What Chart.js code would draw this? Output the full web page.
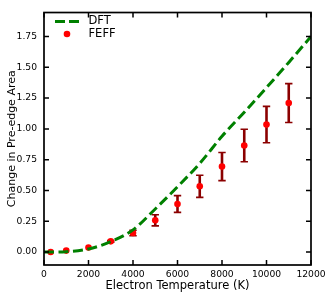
<!DOCTYPE html>
<html>
<head>
<meta charset="utf-8">
<script src="https://cdn.jsdelivr.net/npm/chart.js@4.4.1/dist/chart.umd.min.js"></script>
<style>
html,body{margin:0;padding:0;background:#fff;}
#wrap{width:332px;height:298px;}
</style>
</head>
<body>
<div id="wrap"><canvas id="c" width="332" height="298"></canvas></div>
<script>
// ---- data ----
const dftTemps = [0, 1000, 2000, 3000, 4000, 5000, 6000, 7000, 8000, 9000, 10000, 11000, 12000];
const dftValues = [0, 0.003, 0.025, 0.085, 0.18, 0.35, 0.53, 0.72, 0.94, 1.135, 1.335, 1.54, 1.75];
const feffTemps = [300, 1000, 2000, 3000, 4000, 5000, 6000, 7000, 8000, 9000, 10000, 11000];
const feffValues = [0, 0.012, 0.037, 0.087, 0.155, 0.258, 0.39, 0.534, 0.694, 0.865, 1.035, 1.21];
const feffErrors = [0, 0, 0, 0.006, 0.022, 0.045, 0.068, 0.09, 0.114, 0.132, 0.148, 0.158];
const xTicks = [0, 2000, 4000, 6000, 8000, 10000, 12000];
const yTicks = [0, 0.25, 0.5, 0.75, 1.0, 1.25, 1.5, 1.75];
const xTitle = 'Electron Temperature (K)';
const yTitle = 'Change in Pre-edge Area';
const legendLabels = ['DFT', 'FEFF'];

const FONT = 'DejaVu Sans';

const framePlugin = {
  id: 'frame',
  beforeDatasetsDraw(chart) {
    // error bars
    const ctx = chart.ctx;
    const xs = chart.scales.x, ys = chart.scales.y;
    ctx.save();
    ctx.strokeStyle = '#8b0000';
    feffTemps.forEach((t, i) => {
      const e = feffErrors[i];
      if (!e) return;
      const px = xs.getPixelForValue(t);
      const y1 = ys.getPixelForValue(feffValues[i] - e);
      const y2 = ys.getPixelForValue(feffValues[i] + e);
      ctx.lineWidth = 2.6;
      ctx.beginPath();
      ctx.moveTo(px, y1); ctx.lineTo(px, y2);
      ctx.stroke();
      ctx.lineWidth = 1.6;
      ctx.beginPath();
      ctx.moveTo(px - 3.7, y1); ctx.lineTo(px + 3.7, y1);
      ctx.moveTo(px - 3.7, y2); ctx.lineTo(px + 3.7, y2);
      ctx.stroke();
    });
    ctx.restore();
  },
  afterDraw(chart) {
    const ctx = chart.ctx;
    const a = chart.chartArea;
    const xs = chart.scales.x, ys = chart.scales.y;
    ctx.save();
    ctx.strokeStyle = '#000';
    ctx.lineWidth = 1.7;
    ctx.strokeRect(a.left, a.top, a.right - a.left, a.bottom - a.top);
    ctx.lineWidth = 1.5;
    ctx.beginPath();
    const tl = 5;
    xTicks.forEach(v => {
      const p = xs.getPixelForValue(v);
      ctx.moveTo(p, a.bottom); ctx.lineTo(p, a.bottom - tl);
      ctx.moveTo(p, a.top); ctx.lineTo(p, a.top + tl);
    });
    yTicks.forEach(v => {
      const p = ys.getPixelForValue(v);
      ctx.moveTo(a.left, p); ctx.lineTo(a.left + tl, p);
      ctx.moveTo(a.right, p); ctx.lineTo(a.right - tl, p);
    });
    ctx.stroke();

    // legend
    ctx.strokeStyle = '#008000';
    ctx.lineWidth = 3;
    ctx.setLineDash([10, 4]);
    ctx.beginPath();
    ctx.moveTo(55, 21.5); ctx.lineTo(79, 21.5);
    ctx.stroke();
    ctx.setLineDash([]);
    ctx.fillStyle = '#ff0000';
    ctx.beginPath();
    ctx.arc(67, 34, 3.3, 0, Math.PI * 2);
    ctx.fill();
    ctx.fillStyle = '#000';
    ctx.font = '11.5px "' + FONT + '"';
    ctx.textBaseline = 'middle';
    ctx.textAlign = 'left';
    ctx.fillText(legendLabels[0], 88.5, 21.5);
    ctx.fillText(legendLabels[1], 88.5, 34);
    ctx.restore();
  }
};

new Chart(document.getElementById('c'), {
  type: 'scatter',
  data: {
    datasets: [
      {
        label: legendLabels[0],
        type: 'line',
        data: dftTemps.map((t, i) => ({x: t, y: dftValues[i]})),
        borderColor: '#008000',
        borderWidth: 3,
        borderDash: [10, 4.5],
        pointRadius: 0,
        fill: false,
        cubicInterpolationMode: 'monotone',
        order: 0
      },
      {
        label: legendLabels[1],
        data: feffTemps.map((t, i) => ({x: t, y: feffValues[i]})),
        backgroundColor: '#ff0000',
        borderWidth: 0,
        pointRadius: 3.3,
        order: 1
      }
    ]
  },
  options: {
    responsive: false,
    animation: false,
    devicePixelRatio: 1,
    layout: {padding: {top: 5, right: 21, left: 0, bottom: 0}},
    plugins: {legend: {display: false}, tooltip: {enabled: false}},
    scales: {
      x: {
        type: 'linear',
        min: 0, max: 12000,
        afterBuildTicks: s => { s.ticks = xTicks.map(v => ({value: v})); },
        afterFit: s => { s.height = 33; },
        grid: {display: false, drawTicks: false},
        border: {display: false},
        ticks: {
          padding: 4,
          color: '#000',
          font: {family: FONT, size: 9.2},
          maxRotation: 0,
          callback: v => String(v)
        },
        title: {display: true, text: xTitle, color: '#000', font: {family: FONT, size: 11.5}, padding: {top: 0, bottom: 5}}
      },
      y: {
        type: 'linear',
        min: -0.105, max: 1.945,
        afterBuildTicks: s => { s.ticks = yTicks.map(v => ({value: v})); },
        afterFit: s => { s.width = 44; },
        grid: {display: false, drawTicks: false},
        border: {display: false},
        ticks: {
          padding: 7,
          color: '#000',
          font: {family: FONT, size: 9.2},
          callback: v => Number(v).toFixed(2)
        },
        title: {display: true, text: yTitle, color: '#000', font: {family: FONT, size: 11}, padding: {top: 6, bottom: 0}}
      }
    }
  },
  plugins: [framePlugin]
});
</script>
</body>
</html>
